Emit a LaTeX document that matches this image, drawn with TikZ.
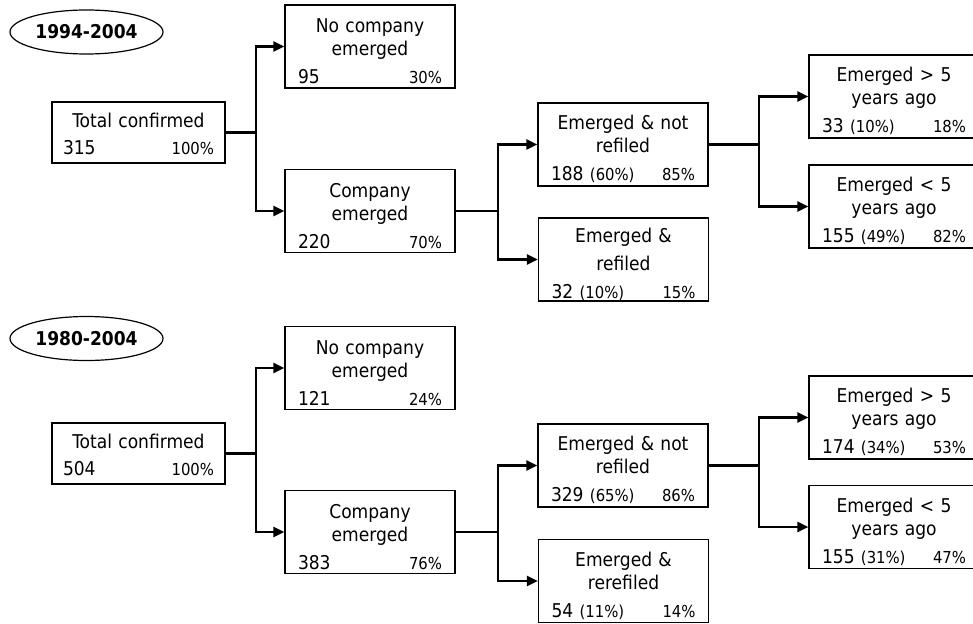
\documentclass[tikz,border=0pt]{standalone}
\usepackage{fontspec}
\setmainfont{DejaVu Sans Condensed}
\usepackage{tikz}
\usetikzlibrary{arrows.meta}
\usetikzlibrary{shapes.geometric}
\newcommand{\pct}[1]{{\fontsize{16.5}{16.5}\selectfont#1\%}}
\newcommand{\ofall}[1]{{\fontsize{16.5}{16.5}\selectfont(#1\%)}}
\tikzset{
    common/.style={draw, rectangle, line width=1.2pt, align=center, inner sep=0pt,
        font=\fontsize{19}{23}\selectfont},
    root/.style={common, minimum width=173pt, minimum height=61pt, text width=151pt,
        execute at begin node={\rule{0pt}{18pt}}},
    stage/.style={common, minimum width=170pt, minimum height=83pt, text width=144pt,
        execute at begin node={\rule{0pt}{24pt}}},
    period/.style={draw, ellipse, line width=1.2pt, inner sep=0pt,
        minimum width=153pt, minimum height=44pt, font=\fontsize{19}{23}\selectfont\bfseries},
    link/.style={line width=2.2pt},
    split/.style={link, -{Triangle[length=11pt, width=10pt]}}
}
\begin{document}
\begin{tikzpicture}[x=1pt, y=-1pt]
    \useasboundingbox (0,0) rectangle (973,623);

    \node[period] (p1) at (86.5,32) {1994-2004};
    \node[root] (tot1) at (138.5,132.5) {Total confirmed\\[4pt]315\hfill\pct{100}};
    \node[stage] (none1) at (370,46.5) {No company\\emerged\\[5pt]95\hfill\pct{30}};
    \node[stage] (emer1) at (370,211) {Company\\emerged\\[5pt]220\hfill\pct{70}};
    \node[stage] (norf1) at (623,144.5) {Emerged \& not\\refiled\\[5pt]188 \ofall{60}\hfill\pct{85}};
    \node[stage] (refi1) at (623.5,259.5) {Emerged \&\\[5pt]refiled\\[5pt]32 \ofall{10}\hfill\pct{15}};
    \node[stage] (old1) at (894,96.5) {Emerged > 5\\years ago\\[5pt]33 \ofall{10}\hfill\pct{18}};
    \node[stage] (new1) at (894,206.5) {Emerged < 5\\years ago\\[5pt]155 \ofall{49}\hfill\pct{82}};

    \draw[link] (tot1.east) -- ++(30,0) coordinate (j1);
    \draw[split] (j1) |- (none1.west);
    \draw[split] (j1) |- (emer1.west);
    \draw[link] (emer1.east) -- ++(42,0) coordinate (j2);
    \draw[split] (j2) |- (norf1.west);
    \draw[split] (j2) |- (refi1.west);
    \draw[link] (norf1.east) -- ++(50,0) coordinate (j3);
    \draw[split] (j3) |- (old1.west);
    \draw[split] (j3) |- (new1.west);

    \node[period] (p2) at (86.5,338.5) {1980-2004};
    \node[root] (tot2) at (138.5,453.5) {Total confirmed\\[4pt]504\hfill\pct{100}};
    \node[stage] (none2) at (370,368) {No company\\emerged\\[5pt]121\hfill\pct{24}};
    \node[stage] (emer2) at (370,532) {Company\\emerged\\[5pt]383\hfill\pct{76}};
    \node[stage] (norf2) at (623,465.5) {Emerged \& not\\refiled\\[5pt]329 \ofall{65}\hfill\pct{86}};
    \node[stage] (refi2) at (623.5,581) {Emerged \&\\rerefiled\\[5pt]54 \ofall{11}\hfill\pct{14}};
    \node[stage] (old2) at (894,417.5) {Emerged > 5\\years ago\\[5pt]174 \ofall{34}\hfill\pct{53}};
    \node[stage] (new2) at (894,527) {Emerged < 5\\years ago\\[5pt]155 \ofall{31}\hfill\pct{47}};

    \draw[link] (tot2.east) -- ++(30,0) coordinate (k1);
    \draw[split] (k1) |- (none2.west);
    \draw[split] (k1) |- (emer2.west);
    \draw[link] (emer2.east) -- ++(42,0) coordinate (k2);
    \draw[split] (k2) |- (norf2.west);
    \draw[split] (k2) |- (refi2.west);
    \draw[link] (norf2.east) -- ++(50,0) coordinate (k3);
    \draw[split] (k3) |- (old2.west);
    \draw[split] (k3) |- (new2.west);
\end{tikzpicture}
\end{document}
